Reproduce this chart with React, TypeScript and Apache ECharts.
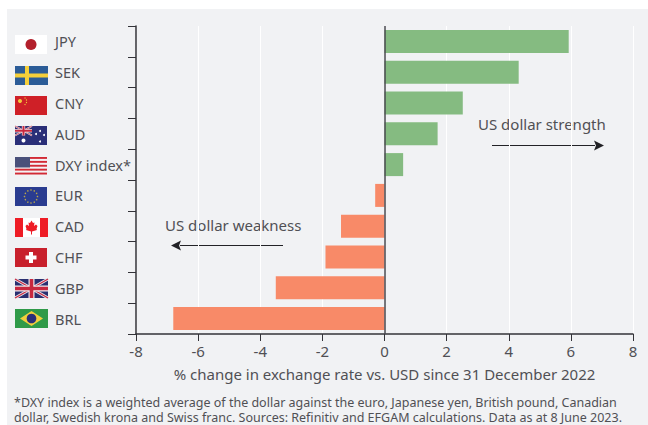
import React, { useEffect, useRef } from "react";
import * as echarts from "echarts";

const categories = ["JPY", "SEK", "CNY", "AUD", "DXY index*", "EUR", "CAD", "CHF", "GBP", "BRL"];
const changes = [5.93, 4.32, 2.52, 1.71, 0.6, -0.3, -1.4, -1.9, -3.5, -6.8];
const xTicks = [-8, -6, -4, -2, 0, 2, 4, 6, 8];
const flagTops = [35, 66, 96, 126, 157, 187, 218, 248, 279, 309];
const xTitle = "% change in exchange rate vs. USD since 31 December 2022";
const footnote1 = "*DXY index is a weighted average of the dollar against the euro, Japanese yen, British pound, Canadian";
const footnote2 = "dollar, Swedish krona and Swiss franc. Sources: Refinitiv and EFGAM calculations. Data as at 8 June 2023.";

const FONT = "'Noto Sans', sans-serif";
const TEXT = "#505054";
const FW = 32;
const FH = 19;

const r = (x: number, y: number, w: number, h: number, fill: string) => ({
  type: "rect", shape: { x, y, width: w, height: h }, style: { fill }, silent: true,
});
const c = (cx: number, cy: number, rad: number, fill: string) => ({
  type: "circle", shape: { cx, cy, r: rad }, style: { fill }, silent: true,
});
const p = (points: number[][], fill: string) => ({
  type: "polygon", shape: { points }, style: { fill }, silent: true,
});
const l = (x1: number, y1: number, x2: number, y2: number, stroke: string, lineWidth: number) => ({
  type: "line", shape: { x1, y1, x2, y2 }, style: { stroke, lineWidth }, silent: true,
});

function union(x: number, y: number, w: number, h: number, scale = 1) {
  const navy = "#2a2f70";
  const red = "#c8283f";
  return [
    r(x, y, w, h, navy),
    l(x, y, x + w, y + h, "#e8e4ea", 3 * scale),
    l(x + w, y, x, y + h, "#e8e4ea", 3 * scale),
    l(x, y, x + w, y + h, red, 1.2 * scale),
    l(x + w, y, x, y + h, red, 1.2 * scale),
    r(x + w / 2 - 3 * scale, y, 6 * scale, h, "#efeaee"),
    r(x, y + h / 2 - 3 * scale, w, 6 * scale, "#efeaee"),
    r(x + w / 2 - 1.8 * scale, y, 3.6 * scale, h, red),
    r(x, y + h / 2 - 1.8 * scale, w, 3.6 * scale, red),
  ];
}

const flagDrawers: Record<string, (x: number, y: number) => any[]> = {
  JPY: (x, y) => [r(x, y, FW, FH, "#ffffff"), c(x + 16, y + 9.5, 5.5, "#b3202c")],
  SEK: (x, y) => [r(x, y, FW + 1, FH, "#2b5c97"), r(x + 10, y, 4, FH, "#f5cf3a"), r(x, y + 7.5, FW + 1, 4, "#f5cf3a")],
  CNY: (x, y) => [
    r(x, y, FW, FH, "#cf2027"),
    c(x + 5, y + 5, 2, "#f3c93c"),
    c(x + 10, y + 2, 0.6, "#f3c93c"),
    c(x + 11.5, y + 4, 0.6, "#f3c93c"),
    c(x + 11.5, y + 6.5, 0.6, "#f3c93c"),
    c(x + 10, y + 8.5, 0.6, "#f3c93c"),
  ],
  AUD: (x, y) => [
    r(x, y, FW, FH, "#2a2f78"),
    ...union(x, y, 17, 9.5, 0.55),
    c(x + 8.5, y + 14.5, 2, "#ffffff"),
    c(x + 25, y + 5, 1, "#ffffff"),
    c(x + 21, y + 8, 1, "#ffffff"),
    c(x + 29, y + 9, 1, "#ffffff"),
    c(x + 25, y + 15.5, 1, "#ffffff"),
  ],
  "DXY index*": (x, y) => {
    const out: any[] = [r(x, y, FW, FH, "#f4f2f4")];
    for (let i = 0; i < 5; i++) out.push(r(x, y + i * 3.9, FW, 1.9, "#d22a35"));
    out.push(r(x, y, 15, 10.5, "#49507a"));
    return out;
  },
  EUR: (x, y) => {
    const out: any[] = [r(x, y, FW, FH, "#2a3c90")];
    const stars = [[0, -6.5], [3.2, -5.6], [5.6, -3.2], [6.5, 0], [5.6, 3.2], [3.2, 5.6], [0, 6.5], [-3.2, 5.6], [-5.6, 3.2], [-6.5, 0], [-5.6, -3.2], [-3.2, -5.6]];
    stars.forEach(([dx, dy]) => out.push(c(x + 16 + dx, y + 9.5 + dy, 0.75, "#b8a64a")));
    return out;
  },
  CAD: (x, y) => [
    r(x, y, FW + 1, FH, "#ee1c25"),
    r(x + 8, y, 17, FH, "#ffffff"),
    p([[x + 16.5, y + 2.5], [x + 18, y + 5], [x + 19.5, y + 4.5], [x + 19, y + 8], [x + 21, y + 6.5], [x + 22.5, y + 8], [x + 21.5, y + 11], [x + 22, y + 12], [x + 17, y + 13.5], [x + 17, y + 16.5], [x + 16, y + 16.5], [x + 16, y + 13.5], [x + 11, y + 12], [x + 11.5, y + 11], [x + 10.5, y + 8], [x + 12, y + 6.5], [x + 14, y + 8], [x + 13.5, y + 4.5], [x + 15, y + 5]], "#ee1c25"),
  ],
  CHF: (x, y) => [
    r(x, y, FW, FH, "#c8202c"),
    r(x + 14, y + 4, 4, 11, "#ffffff"),
    r(x + 10.5, y + 7.5, 11, 4, "#ffffff"),
  ],
  GBP: (x, y) => union(x, y, FW + 1, FH, 1),
  BRL: (x, y) => [
    r(x, y, FW + 1, FH, "#2f9a48"),
    p([[x + 16.5, y + 2], [x + 28, y + 9.5], [x + 16.5, y + 17], [x + 5, y + 9.5]], "#f2cf3c"),
    c(x + 16.5, y + 9.5, 4.8, "#2a2f78"),
  ],
};

function buildFlags() {
  const out: any[] = [];
  categories.forEach((cat, i) => out.push(...flagDrawers[cat](15, flagTops[i])));
  return out;
}

function annotation(text: string, x: number, y: number) {
  return {
    type: "text", x, y, silent: true,
    style: { text, fill: TEXT, font: `15px ${FONT}`, textAlign: "left", textVerticalAlign: "middle" },
  };
}

export default function App() {
  const ref = useRef<HTMLDivElement>(null);
  useEffect(() => {
    const chart = echarts.init(ref.current!, undefined, { renderer: "svg" });
    chart.setOption({
      animation: false,
      backgroundColor: "#ffffff",
      grid: { left: 136, right: 15, top: 26, bottom: 91 },
      xAxis: {
        type: "value", min: -8, max: 8, interval: 2,
        axisLine: { show: true, onZero: false, lineStyle: { color: "#333338", width: 1.5 } },
        axisTick: { show: true, length: 7, lineStyle: { color: "#333338", width: 1 } },
        axisLabel: { color: TEXT, fontSize: 15, fontFamily: FONT, margin: 9, formatter: (v: number) => (xTicks.includes(v) ? String(v) : "") },
        splitLine: { show: true, lineStyle: { color: "#ffffff", width: 1 } },
        name: xTitle, nameLocation: "middle", nameGap: 32,
        nameTextStyle: { color: TEXT, fontSize: 15, fontFamily: FONT },
      },
      yAxis: {
        type: "category", data: categories, inverse: true,
        axisLine: { show: true, onZero: false, lineStyle: { color: "#333338", width: 1.5 } },
        axisTick: { show: true, length: 8, alignWithLabel: false, lineStyle: { color: "#333338", width: 1 } },
        axisLabel: { color: TEXT, fontSize: 14.5, fontFamily: FONT, align: "left", margin: 81, interval: 0, padding: [3, 0, 0, 0] },
        splitLine: { show: false },
      },
      series: [{
        type: "bar", barWidth: 23, z: 3,
        data: changes.map((v) => ({ value: v, itemStyle: { color: v >= 0 ? "#85bb81" : "#f88a68" } })),
        markLine: {
          silent: true, symbol: "none", label: { show: false }, animation: false, z: 4,
          lineStyle: { color: "#4a4a50", width: 1.5, type: "solid" },
          data: [{ xAxis: 0 }],
        },
      }],
      graphic: [
        { type: "group", z: -10, silent: true, children: [r(7, 9, 641, 416, "#f1f2f4")] },
        { type: "group", silent: true, children: buildFlags() },
        annotation("US dollar strength", 478, 124),
        annotation("US dollar weakness", 165, 225),
        l(492, 145.5, 595, 145.5, "#222226", 1.2),
        p([[604, 145.5], [594, 140.5], [596, 145.5], [594, 150.5]], "#222226"),
        l(283, 245.5, 180, 245.5, "#222226", 1.2),
        p([[171, 245.5], [181, 240.5], [179, 245.5], [181, 250.5]], "#222226"),
        { type: "text", x: 14, y: 409.5, silent: true, style: { text: `${footnote1}\n${footnote2}`, fill: TEXT, font: `12.5px ${FONT}`, lineHeight: 15, textVerticalAlign: "middle" } },
      ],
    });
    return () => chart.dispose();
  }, []);
  return <div ref={ref} style={{ position: "absolute", left: 0, top: 0, width: 648, height: 425 }} />;
}
